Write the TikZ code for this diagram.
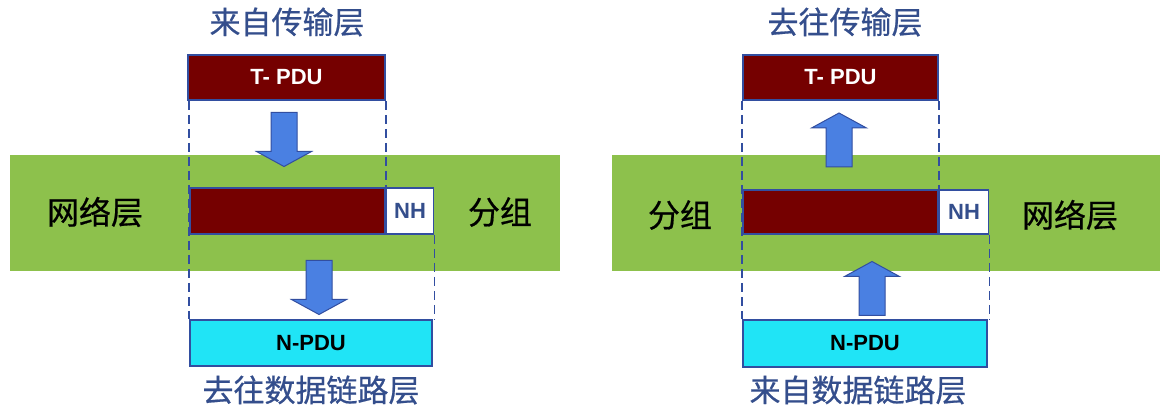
\documentclass[tikz,border=0pt]{standalone}
\usepackage{fontspec}
\setmainfont{Liberation Sans}
\newfontfamily\cjk[FakeBold=0.6]{Noto Sans CJK SC}
\usetikzlibrary{positioning, calc}

\definecolor{bandgreen}{RGB}{141,193,76}
\definecolor{pdured}{RGB}{117,0,0}
\definecolor{pducyan}{RGB}{32,228,246}
\definecolor{edgeblue}{RGB}{50,78,160}
\definecolor{arrowblue}{RGB}{74,128,226}
\definecolor{textblue}{RGB}{52,78,140}

\begin{document}
\begin{tikzpicture}[
  x=1pt, y=-1pt,
  band/.style={fill=bandgreen, draw=none, minimum height=116pt, inner sep=0},
  box/.style={draw=edgeblue, line width=1.6pt, minimum height=45pt, inner sep=0,
    font=\fontsize{22}{24}\selectfont\bfseries},
  title/.style={font=\cjk\fontsize{31}{33}\selectfont, text=textblue},
  layer/.style={font=\cjk\fontsize{32}{34}\selectfont, text=black},
  guide/.style={draw=edgeblue, line width=1.6pt, dash pattern=on 9pt off 5pt},
  blockarrow/.pic={
    \draw[fill=arrowblue, draw=edgeblue, line width=1pt, line join=miter]
      (-13,-27) -- (13,-27) -- (13,12) -- (27.5,12) -- (0,27) -- (-27.5,12) -- (-13,12) -- cycle;
  }
]
  \useasboundingbox (0,0) rectangle (1171,414);

  % left: sending side
  \node[band, minimum width=550pt] (bandL) at (285,213) {};
  \node[title] (fromT) at (287,22) {来自传输层};
  \node[box, fill=pdured, text=white, minimum width=197pt] (tpduL) at (286.5,77.5) {T- PDU};
  \node[box, fill=pdured, minimum width=195pt, minimum height=46pt] (dataL) at (287.5,211) {};
  \node[box, fill=white, text=textblue, minimum width=47pt, minimum height=46pt, right=0pt of dataL] (nhL) {NH};
  \node[box, fill=pducyan, text=black, minimum width=242pt, minimum height=46pt] (npduL) at (311,343) {N-PDU};
  \node[title] (toDL) at (311,390) {去往数据链路层};
  \node[layer] (netL) at (95,212) {网络层};
  \node[layer] (pktL) at (500,212) {分组};

  \draw[guide] ($(tpduL.south west)+(2,0)$) -- (npduL.north west);
  \draw[guide] (tpduL.south east) -- (dataL.north east);
  \draw[guide] (nhL.south east) -- (nhL.south east |- npduL.north);

  \pic at (284,139.5) {blockarrow};
  \pic at (319,287.5) {blockarrow};

  % right: receiving side
  \node[band, minimum width=548pt] (bandR) at (886,213) {};
  \node[title] (toT) at (845,22) {去往传输层};
  \node[box, fill=pdured, text=white, minimum width=195pt] (tpduR) at (840.5,77.5) {T- PDU};
  \node[box, fill=pdured, minimum width=195pt, minimum height=44pt] (dataR) at (840.5,212) {};
  \node[box, fill=white, text=textblue, minimum width=49pt, minimum height=44pt, right=0pt of dataR] (nhR) {NH};
  \node[box, fill=pducyan, text=black, minimum width=244pt, minimum height=47pt] (npduR) at (865,343.5) {N-PDU};
  \node[title] (fromDL) at (858,390) {来自数据链路层};
  \node[layer] (pktR) at (680,215) {分组};
  \node[layer] (netR) at (1070,215) {网络层};

  \draw[guide] (tpduR.south west) -- (npduR.north west);
  \draw[guide] (tpduR.south east) -- (dataR.north east);
  \draw[guide] (nhR.south east) -- (nhR.south east |- npduR.north);

  \pic[rotate=180] at (839,140) {blockarrow};
  \pic[rotate=180] at (872,288.5) {blockarrow};
\end{tikzpicture}
\end{document}
